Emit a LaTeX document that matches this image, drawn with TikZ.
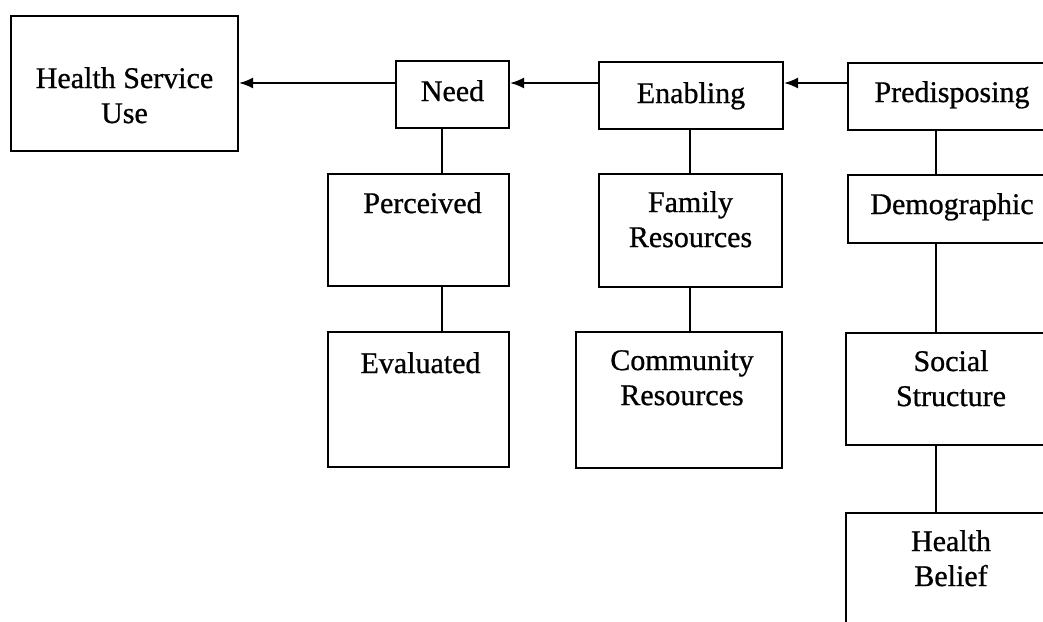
\documentclass[tikz,border=0pt]{standalone}
\usepackage{fontspec}
\setmainfont{Liberation Serif}
\newfontfamily\lblfont[FakeBold=0.8]{Liberation Serif}
\usetikzlibrary{arrows.meta}
\begin{document}
\begin{tikzpicture}[x=1pt,y=-1pt,
  box/.style={draw, line width=2pt, rectangle, inner sep=0pt, anchor=north west},
  lbl/.style={font=\lblfont\fontsize{30}{35}\selectfont, align=center, inner sep=0pt, anchor=north},
  link/.style={line width=2pt},
  arr/.style={line width=2pt, -{Latex[length=14pt,width=11pt]}}]
\useasboundingbox (0,0) rectangle (1043,621);
\fill[white] (0,0) rectangle (1043,621);
\clip (0,0) rectangle (1043,621);
% boxes
\node[box, minimum width=227pt, minimum height=135pt] (hsu)  at (10,15)   {};
\node[box, minimum width=113pt, minimum height=67pt]  (need) at (395,60)  {};
\node[box, minimum width=184pt, minimum height=67pt]  (enab) at (598,61)  {};
\node[box, minimum width=208pt, minimum height=67pt]  (pred) at (847,62)  {};
\node[box, minimum width=181pt, minimum height=112pt] (perc) at (327,173) {};
\node[box, minimum width=183pt, minimum height=113pt] (fam)  at (598,173) {};
\node[box, minimum width=208pt, minimum height=68pt]  (demo) at (847,174) {};
\node[box, minimum width=181pt, minimum height=135pt] (eval) at (327,331) {};
\node[box, minimum width=206pt, minimum height=136pt] (comm) at (575,331) {};
\node[box, minimum width=210pt, minimum height=112pt] (soc)  at (845,332) {};
\node[box, minimum width=210pt, minimum height=150pt] (hb)   at (845,512) {};
% labels
\node[lbl] (thsu)  at ([yshift=-52pt]hsu.north)  {Health Service\\Use};
\node[lbl] (tneed) at ([yshift=-20pt]need.north) {Need};
\node[lbl] (tenab) at ([yshift=-21pt]enab.north) {Enabling};
\node[lbl] (tpred) at ([yshift=-19pt]pred.north) {Predisposing};
\node[lbl] (tperc) at ([xshift=4pt,yshift=-19pt]perc.north) {Perceived};
\node[lbl] (tfam)  at ([yshift=-18pt]fam.north)  {Family\\Resources};
\node[lbl] (tdemo) at ([yshift=-19pt]demo.north) {Demographic};
\node[lbl] (teval) at ([xshift=2pt,yshift=-21pt]eval.north) {Evaluated};
\node[lbl] (tcomm) at ([xshift=3pt,yshift=-19pt]comm.north) {Community\\Resources};
\node[lbl] (tsoc)  at ([yshift=-18pt]soc.north)  {Social\\Structure};
\node[lbl] (thb)   at ([yshift=-18pt]hb.north)   {Health\\Belief};
% connectors
\coordinate (cx1) at (442,0);
\coordinate (cx2) at (690,0);
\coordinate (cx3) at (936,0);
\coordinate (ay) at (0,83);
\draw[link] (need.south -| cx1) -- (perc.north -| cx1);
\draw[link] (perc.south -| cx1) -- (eval.north -| cx1);
\draw[link] (enab.south -| cx2) -- (fam.north -| cx2);
\draw[link] (fam.south -| cx2) -- (comm.north -| cx2);
\draw[link] (pred.south -| cx3) -- (demo.north -| cx3);
\draw[link] (demo.south -| cx3) -- (soc.north -| cx3);
\draw[link] (soc.south -| cx3) -- (hb.north -| cx3);
\draw[arr] (need.west |- ay) -- (hsu.east |- ay);
\draw[arr] (enab.west |- ay) -- (need.east |- ay);
\draw[arr] (pred.west |- ay) -- (enab.east |- ay);
\end{tikzpicture}
\end{document}
